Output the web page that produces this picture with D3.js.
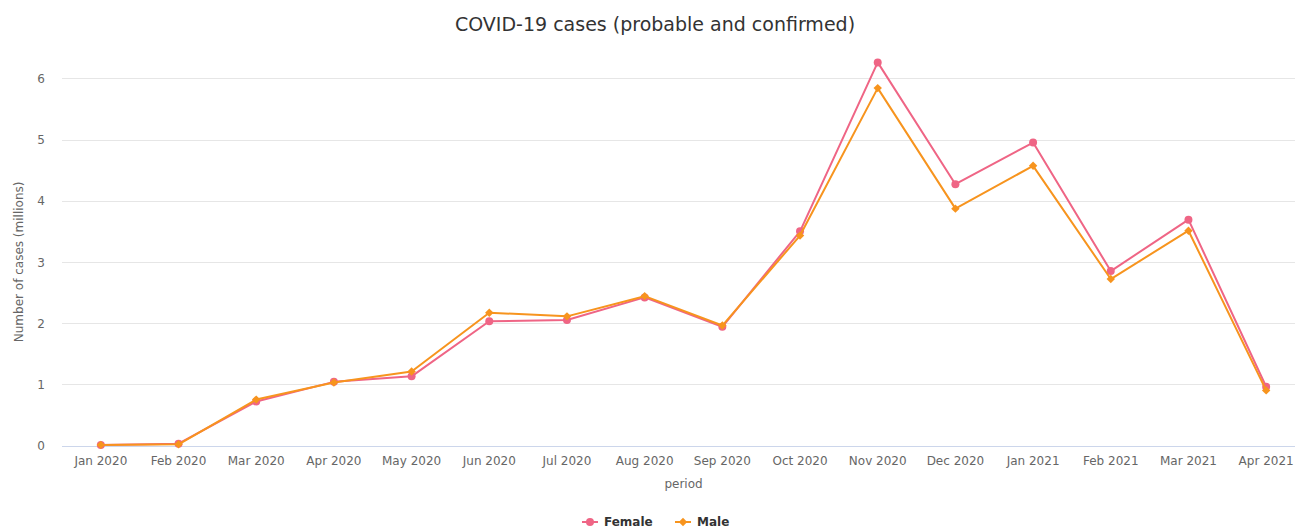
<!DOCTYPE html>
<html>
<head>
<meta charset="utf-8">
<script src="https://cdn.jsdelivr.net/npm/d3@7"></script>
<style>
  body { margin: 0; background: #fff; overflow: hidden; }
  text { font-family: "DejaVu Sans", sans-serif; }
</style>
</head>
<body>
<section></section>
<script>
const categories = ['Jan 2020', 'Feb 2020', 'Mar 2020', 'Apr 2020', 'May 2020', 'Jun 2020',
  'Jul 2020', 'Aug 2020', 'Sep 2020', 'Oct 2020', 'Nov 2020', 'Dec 2020',
  'Jan 2021', 'Feb 2021', 'Mar 2021', 'Apr 2021'];
const female = [0.01, 0.03, 0.72, 1.04, 1.13, 2.03, 2.05, 2.42, 1.94, 3.50, 6.26, 4.27, 4.95, 2.85, 3.69, 0.96];
const male = [0.01, 0.02, 0.75, 1.03, 1.21, 2.17, 2.11, 2.44, 1.96, 3.43, 5.84, 3.87, 4.57, 2.72, 3.51, 0.90];
const yticks = [0, 1, 2, 3, 4, 5, 6];

const series = [
  { name: 'Female', values: female, color: '#ef6585', symbol: d3.symbolCircle },
  { name: 'Male', values: male, color: '#f7941e', symbol: d3.symbolDiamond2 }
];

const width = 1295, height = 531;
const plotLeft = 62, plotRight = 1305, plotTop = 78.3, plotBottom = 445.5;

const svg = d3.select('section')
  .append('svg')
  .attr('width', width)
  .attr('height', height);

const xscale = d3.scaleBand().domain(categories).range([plotLeft, plotRight]);
const yscale = d3.scaleLinear().domain([0, 6]).range([plotBottom, plotTop]);
const xpos = (d, i) => xscale(categories[i]) + xscale.bandwidth() / 2;

// gridlines
svg.append('g')
  .selectAll('line')
  .data(yticks.filter(d => d > 0))
  .enter()
  .append('line')
  .attr('x1', plotLeft)
  .attr('x2', plotRight)
  .attr('y1', d => Math.round(yscale(d)) + 0.5)
  .attr('y2', d => Math.round(yscale(d)) + 0.5)
  .attr('stroke', '#e6e6e6');

// y axis labels
const yaxis = d3.axisLeft(yscale).tickValues(yticks).tickFormat(d3.format('d')).tickSize(0).tickPadding(0);
const yg = svg.append('g')
  .attr('transform', `translate(${plotLeft - 17}, 0)`)
  .call(yaxis);
yg.select('.domain').remove();
yg.selectAll('text')
  .attr('fill', '#666')
  .attr('font-size', 12)
  .attr('dy', '0.35em');

// x axis
const xaxis = d3.axisBottom(xscale).tickSize(0).tickPadding(10);
const xg = svg.append('g')
  .attr('transform', `translate(0, ${Math.round(plotBottom) + 0.5})`)
  .call(xaxis);
xg.select('.domain')
  .attr('stroke', '#ccd6eb')
  .attr('d', `M${plotLeft},0H${plotRight}`);
xg.selectAll('text')
  .attr('fill', '#666')
  .attr('font-size', 12);

// titles
svg.append('text')
  .attr('x', 655)
  .attr('y', 31)
  .attr('text-anchor', 'middle')
  .attr('fill', '#333')
  .attr('font-size', 19)
  .text('COVID-19 cases (probable and confirmed)');

svg.append('text')
  .attr('transform', `translate(23, ${(plotTop + plotBottom) / 2}) rotate(-90)`)
  .attr('text-anchor', 'middle')
  .attr('fill', '#666')
  .attr('font-size', 12)
  .text('Number of cases (millions)');

svg.append('text')
  .attr('x', (plotLeft + plotRight) / 2)
  .attr('y', 488)
  .attr('text-anchor', 'middle')
  .attr('fill', '#666')
  .attr('font-size', 12)
  .text('period');

// lines and markers
const line = d3.line()
  .x(xpos)
  .y(d => yscale(d));

series.forEach(s => {
  const g = svg.append('g');
  g.append('path')
    .datum(s.values)
    .attr('d', line)
    .attr('fill', 'none')
    .attr('stroke', s.color)
    .attr('stroke-width', 2)
    .attr('stroke-linejoin', 'round');
  g.selectAll('.point')
    .data(s.values)
    .enter()
    .append('path')
    .attr('class', 'point')
    .attr('d', d3.symbol().type(s.symbol).size(s.symbol === d3.symbolCircle ? 50 : 45))
    .attr('transform', (d, i) => `translate(${xpos(d, i)}, ${yscale(d)})`)
    .attr('fill', s.color);
});

// legend
const legendItems = [
  { s: series[0], x: 582 },
  { s: series[1], x: 675 }
];
const legend = svg.append('g').attr('transform', 'translate(0, 522)');
legendItems.forEach(item => {
  const g = legend.append('g').attr('transform', `translate(${item.x}, 0)`);
  g.append('line')
    .attr('x1', 0).attr('x2', 16)
    .attr('stroke', item.s.color)
    .attr('stroke-width', 2);
  g.append('path')
    .attr('d', d3.symbol().type(item.s.symbol).size(item.s.symbol === d3.symbolCircle ? 50 : 45))
    .attr('transform', 'translate(8, 0)')
    .attr('fill', item.s.color);
  g.append('text')
    .attr('x', 22)
    .attr('dy', '0.35em')
    .attr('fill', '#333')
    .attr('font-size', 12)
    .attr('font-weight', 'bold')
    .text(item.s.name);
});
</script>
</body>
</html>
